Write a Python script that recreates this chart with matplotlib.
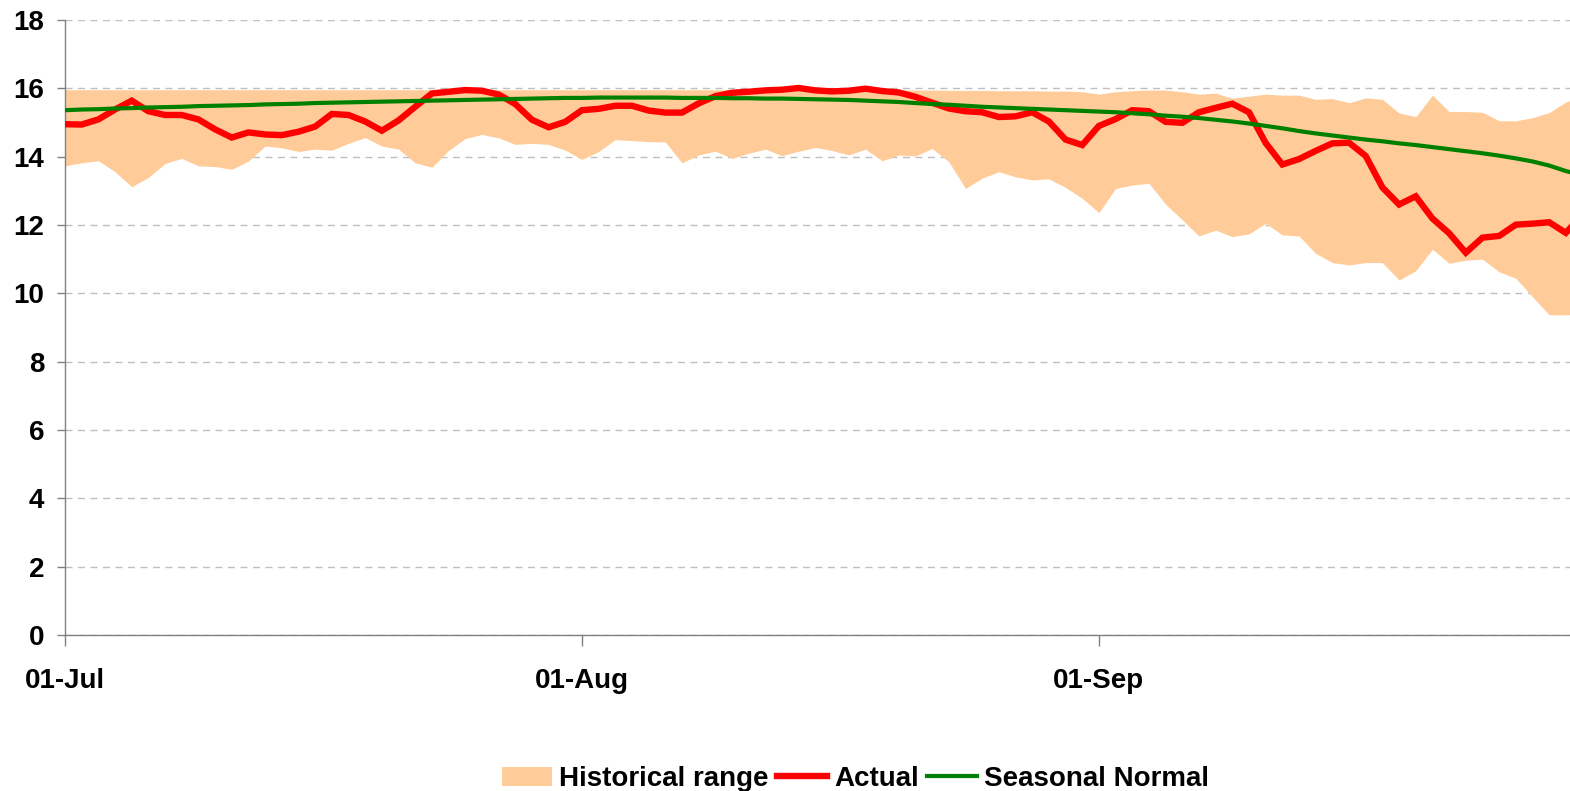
import matplotlib
matplotlib.use("Agg")
import matplotlib.pyplot as plt
import matplotlib.dates as mdates
from matplotlib.patches import Patch
from matplotlib.lines import Line2D
import pandas as pd

start_date = "2023-07-01"
n_days = 92

actual = [14.95, 14.94, 15.09, 15.38, 15.64, 15.33, 15.22, 15.22, 15.09, 14.80,
          14.56, 14.71, 14.65, 14.63, 14.73, 14.88, 15.25, 15.22, 15.03, 14.76,
          15.06, 15.46, 15.85, 15.90, 15.95, 15.93, 15.82, 15.54, 15.08, 14.86,
          15.02, 15.36, 15.40, 15.49, 15.49, 15.35, 15.29, 15.29, 15.56, 15.77,
          15.87, 15.90, 15.94, 15.96, 16.01, 15.94, 15.91, 15.93, 15.99, 15.92,
          15.88, 15.75, 15.58, 15.41, 15.33, 15.30, 15.16, 15.18, 15.30, 15.03,
          14.50, 14.34, 14.90, 15.10, 15.36, 15.33, 15.02, 14.99, 15.30, 15.43,
          15.55, 15.30, 14.40, 13.77, 13.93, 14.17, 14.39, 14.41, 14.02, 13.10,
          12.60, 12.84, 12.19, 11.76, 11.19, 11.63, 11.68, 12.01, 12.04, 12.08,
          11.77, 12.30]

normal = [15.36, 15.38, 15.39, 15.41, 15.42, 15.44, 15.45, 15.46, 15.48, 15.49,
          15.50, 15.51, 15.53, 15.54, 15.55, 15.57, 15.58, 15.59, 15.60, 15.61,
          15.62, 15.63, 15.64, 15.65, 15.66, 15.67, 15.68, 15.69, 15.70, 15.71,
          15.72, 15.72, 15.73, 15.73, 15.73, 15.73, 15.73, 15.72, 15.72, 15.72,
          15.71, 15.71, 15.70, 15.70, 15.69, 15.68, 15.67, 15.66, 15.64, 15.62,
          15.60, 15.57, 15.54, 15.52, 15.49, 15.46, 15.44, 15.42, 15.40, 15.38,
          15.36, 15.34, 15.32, 15.30, 15.27, 15.24, 15.20, 15.17, 15.13, 15.08,
          15.03, 14.97, 14.90, 14.83, 14.75, 14.68, 14.62, 14.56, 14.50, 14.45,
          14.39, 14.34, 14.28, 14.22, 14.16, 14.10, 14.03, 13.95, 13.86, 13.74,
          13.58, 13.45]

hist_high = [15.96, 15.96, 15.96, 15.96, 15.96, 15.96, 15.96, 15.96, 15.96, 15.96,
             15.96, 15.96, 15.96, 15.96, 15.96, 15.96, 15.96, 15.96, 15.96, 15.96,
             15.96, 15.96, 15.96, 15.96, 15.96, 15.96, 15.96, 15.96, 15.96, 15.96,
             15.96, 15.96, 15.96, 15.96, 15.96, 15.96, 15.96, 15.96, 15.96, 15.96,
             15.96, 15.96, 15.96, 15.96, 15.96, 15.96, 15.96, 15.96, 15.96, 15.96,
             15.95, 15.95, 15.95, 15.94, 15.94, 15.94, 15.93, 15.93, 15.93, 15.92,
             15.92, 15.90, 15.83, 15.90, 15.93, 15.95, 15.95, 15.90, 15.83, 15.86,
             15.71, 15.77, 15.83, 15.80, 15.80, 15.68, 15.70, 15.58, 15.72, 15.68,
             15.28, 15.17, 15.80, 15.32, 15.32, 15.30, 15.05, 15.05, 15.14, 15.29,
             15.60, 15.75]

hist_low = [13.73, 13.82, 13.88, 13.56, 13.12, 13.39, 13.80, 13.95, 13.73, 13.71,
            13.63, 13.87, 14.31, 14.26, 14.15, 14.22, 14.19, 14.39, 14.56, 14.31,
            14.22, 13.82, 13.69, 14.18, 14.53, 14.65, 14.55, 14.36, 14.39, 14.36,
            14.19, 13.92, 14.15, 14.50, 14.47, 14.44, 14.43, 13.82, 14.05, 14.16,
            13.95, 14.10, 14.22, 14.03, 14.16, 14.27, 14.18, 14.05, 14.22, 13.88,
            14.05, 14.02, 14.24, 13.85, 13.07, 13.37, 13.56, 13.41, 13.32, 13.35,
            13.10, 12.78, 12.36, 13.07, 13.17, 13.22, 12.61, 12.15, 11.68, 11.85,
            11.66, 11.74, 12.05, 11.71, 11.68, 11.17, 10.90, 10.83, 10.90, 10.90,
            10.39, 10.66, 11.29, 10.88, 10.97, 11.00, 10.63, 10.44, 9.90, 9.37,
            9.37, 9.40]

y_ticks = [0, 2, 4, 6, 8, 10, 12, 14, 16, 18]
x_tick_dates = ["2023-07-01", "2023-08-01", "2023-09-01"]
legend_labels = ["Historical range", "Actual", "Seasonal Normal"]

dates = pd.date_range(start_date, periods=n_days, freq="D")

FONT = ["Liberation Sans", "DejaVu Sans"]
plt.rcParams["font.family"] = FONT
plt.rcParams["font.weight"] = "bold"

fig = plt.figure(figsize=(15.7, 7.91), dpi=100)
ax = fig.add_axes([65 / 1570, 1 - 635 / 791, 1 - 65 / 1570, (635 - 20) / 791])

band_color = "#FFCC99"
ax.fill_between(dates, hist_low, hist_high, color=band_color, linewidth=0, zorder=1)
ax.plot(dates, actual, color="#FF0000", linewidth=4.6, zorder=3, solid_joinstyle="miter")
ax.plot(dates, normal, color="#008000", linewidth=3.0, zorder=4)

ax.set_ylim(0, 18)
ax.set_yticks(y_ticks)
x0 = pd.Timestamp(start_date)
ax.set_xlim(x0, x0 + pd.Timedelta(days=90.25))
ax.set_xticks(pd.to_datetime(x_tick_dates))
ax.xaxis.set_major_formatter(mdates.DateFormatter("%d-%b"))

ax.set_axisbelow(True)
ax.yaxis.grid(True, color="#BFBFBF", linestyle=(0, (5, 4)), linewidth=1.0)
ax.xaxis.grid(False)

for s in ["top", "right"]:
    ax.spines[s].set_visible(False)
ax.spines["left"].set_color("#808080")
ax.spines["bottom"].set_color("#808080")
ax.spines["left"].set_linewidth(1.0)
ax.spines["bottom"].set_linewidth(1.0)

ax.tick_params(axis="y", direction="out", length=6, width=1, color="#808080",
               labelsize=20, pad=9)
ax.tick_params(axis="x", direction="out", length=8, width=1, color="#808080",
               labelsize=20, pad=16)
for lbl in ax.get_xticklabels() + ax.get_yticklabels():
    lbl.set_fontweight("bold")

handles = [Patch(facecolor=band_color, edgecolor="none"),
           Line2D([0], [0], color="#FF0000", linewidth=4.6),
           Line2D([0], [0], color="#008000", linewidth=3.0)]
leg = fig.legend(handles, legend_labels, loc="center", bbox_to_anchor=(0.545, 0.015),
                 ncol=3, frameon=False, handlelength=1.8, handletextpad=0.25,
                 columnspacing=0.3, borderpad=0, borderaxespad=0,
                 prop={"family": FONT, "weight": "bold", "size": 20})

fig.savefig("out.png", dpi=100)
